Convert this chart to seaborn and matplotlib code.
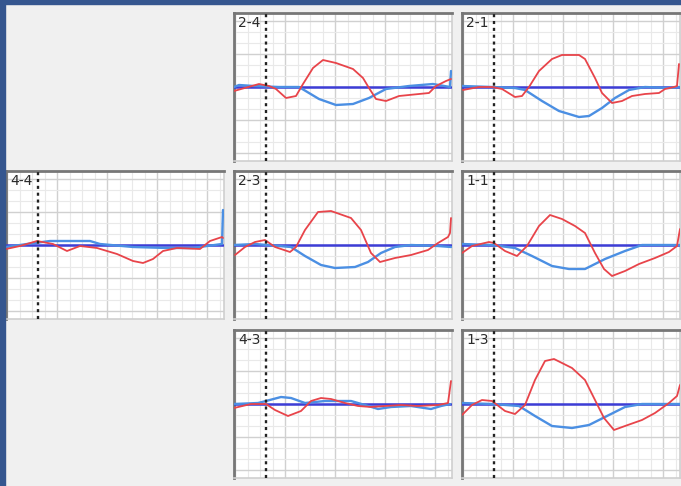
import numpy as np
import pandas as pd
import matplotlib.pyplot as plt
import seaborn as sns
from matplotlib.patches import Rectangle

sns.set_style('white')
plt.rcParams['font.family'] = ['DejaVu Sans']

# panel labels and grid slots (row, col)
labels = ['2-4', '2-1', '4-4', '2-3', '1-1', '4-3', '1-3']
slots = [(0, 1), (0, 2), (1, 0), (1, 1), (1, 2), (2, 1), (2, 2)]

# red traces (x in px-units from panel left, y up from baseline)
red_24_x = [0, 25, 35, 42, 52, 62, 69, 79, 89, 102, 119, 129, 135, 142, 152, 165, 185, 195, 202, 212, 217]
red_24_y = [-4, 3, 1, -2, -11, -9, 3, 19, 27, 24, 18, 9, -1, -12, -14, -9, -7, -6, 1, 6, 8]
red_21_x = [1, 17, 30, 40, 53, 60, 67, 77, 90, 100, 117, 123, 133, 140, 150, 160, 170, 183, 197, 203, 212, 215, 217]
red_21_y = [-3, 0, 0, -2, -10, -9, 0, 16, 28, 32, 32, 28, 9, -6, -16, -14, -9, -7, -6, -2, 0, 1, 23]
red_44_x = [0, 14, 31, 47, 61, 74, 91, 111, 127, 137, 147, 157, 171, 194, 204, 216, 217]
red_44_y = [-4, -1, 4, 1, -6, -1, -3, -9, -16, -18, -14, -6, -3, -4, 4, 8, 7]
red_23_x = [1, 11, 21, 31, 41, 56, 62, 71, 84, 97, 117, 127, 137, 146, 161, 177, 194, 204, 214, 216, 217]
red_23_y = [-10, -2, 3, 5, -2, -7, -2, 15, 33, 34, 27, 15, -8, -17, -13, -10, -5, 2, 8, 12, 27]
red_11_x = [0, 10, 27, 32, 43, 55, 65, 77, 88, 100, 113, 123, 133, 142, 150, 163, 177, 193, 207, 215, 218]
red_11_y = [-8, -1, 3, 2, -6, -11, -1, 19, 30, 26, 19, 12, -8, -24, -31, -26, -19, -13, -7, -1, 16]
red_43_x = [0, 17, 32, 41, 54, 67, 77, 87, 97, 111, 124, 137, 151, 167, 184, 204, 214, 217]
red_43_y = [-4, 0, 0, -6, -12, -7, 3, 6, 5, 1, -2, -3, -2, -1, -2, -1, 1, 23]
red_13_x = [0, 10, 20, 30, 43, 53, 63, 73, 83, 92, 110, 123, 133, 142, 152, 163, 180, 193, 207, 215, 218]
red_13_y = [-11, -1, 4, 3, -7, -10, -1, 24, 43, 45, 36, 24, 4, -14, -26, -22, -16, -9, 1, 8, 19]

# blue traces
blue_24_x = [0, 5, 20, 45, 65, 85, 102, 119, 135, 152, 175, 199, 216, 217]
blue_24_y = [0, 2, 1, 0, 0, -12, -18, -17, -11, -2, 1, 3, 0, 16]
blue_21_x = [0, 30, 53, 63, 80, 97, 117, 127, 140, 153, 167, 183, 207, 217]
blue_21_y = [1, 0, -1, -3, -14, -24, -30, -29, -21, -11, -3, 0, -1, 0]
blue_44_x = [0, 21, 44, 84, 94, 127, 161, 187, 201, 216, 217]
blue_44_y = [-2, 1, 4, 4, 1, -2, -3, -3, -1, 1, 35]
blue_23_x = [0, 21, 57, 71, 87, 101, 121, 134, 147, 161, 177, 204, 217]
blue_23_y = [0, 1, -2, -11, -20, -23, -22, -17, -8, -2, 0, -1, -2]
blue_11_x = [0, 30, 53, 70, 90, 107, 123, 143, 163, 180, 218]
blue_11_y = [1, 0, -3, -11, -21, -24, -24, -14, -6, 0, 0]
blue_43_x = [0, 24, 32, 47, 57, 71, 91, 117, 131, 144, 157, 177, 197, 207, 216]
blue_43_y = [0, 1, 3, 7, 6, 1, 3, 3, -1, -5, -3, -2, -5, -2, 0]
blue_13_x = [0, 30, 57, 73, 90, 110, 127, 147, 163, 180, 218]
blue_13_y = [1, 0, -2, -12, -22, -24, -21, -11, -3, 0, 0]

red_x = [red_24_x, red_21_x, red_44_x, red_23_x, red_11_x, red_43_x, red_13_x]
red_y = [red_24_y, red_21_y, red_44_y, red_23_y, red_11_y, red_43_y, red_13_y]
blue_x = [blue_24_x, blue_21_x, blue_44_x, blue_23_x, blue_11_x, blue_43_x, blue_13_x]
blue_y = [blue_24_y, blue_21_y, blue_44_y, blue_23_y, blue_11_y, blue_43_y, blue_13_y]

marker_x = 32  # dotted reference line

W, H = 681, 486
fig = plt.figure(figsize=(W / 100, H / 100), dpi=100)
fig.patch.set_facecolor('#f0f0f0')
# window frame strips
fig.patches.append(Rectangle((0, 0), 5 / W, 1, transform=fig.transFigure, color='#35568f', zorder=0))
fig.patches.append(Rectangle((0, 1 - 4 / H), 1, 4 / H, transform=fig.transFigure, color='#35568f', zorder=0))

col_left = [6, 234, 462]
row_top = [13, 171, 330]
pw, ph = 218, 148

for i, lab in enumerate(labels):
    r, c = slots[i]
    ax = fig.add_axes([col_left[c] / W, 1 - (row_top[r] + ph) / H, pw / W, ph / H])
    ax.set_facecolor('white')
    ax.set_xlim(0, 218)
    ax.set_ylim(-74, 74)
    ax.set_xticks(np.arange(1, 218, 50))
    ax.set_xticks(np.arange(1, 218, 12.5), minor=True)
    ax.set_yticks(np.arange(-66, 67, 33))
    ax.set_yticks(np.arange(-66, 67, 11), minor=True)
    ax.grid(which='minor', color='#e9e9e9', lw=0.8)
    ax.grid(which='major', color='#d0d0d0', lw=1.0)
    ax.tick_params(which='both', length=0, labelbottom=False, labelleft=False)
    for s in ['top', 'left']:
        ax.spines[s].set_color('#777777')
        ax.spines[s].set_linewidth(2.0)
    for s in ['bottom', 'right']:
        ax.spines[s].set_color('#cfcfcf')
        ax.spines[s].set_linewidth(1.2)

    ax.axvline(marker_x, color='#222222', ls=(0, (1.3, 1.6)), lw=1.7, zorder=5)
    ax.plot([0, 217], [0, 0], color='#3d3dd6', lw=1.8, zorder=3)
    df_b = pd.DataFrame({'x': blue_x[i], 'y': blue_y[i]})
    sns.lineplot(data=df_b, x='x', y='y', ax=ax, color='#4b8fe3', lw=1.7, estimator=None, zorder=4)
    df_r = pd.DataFrame({'x': red_x[i], 'y': red_y[i]})
    sns.lineplot(data=df_r, x='x', y='y', ax=ax, color='#e8444a', lw=1.3, estimator=None, zorder=4)
    ax.set_xlabel('')
    ax.set_ylabel('')
    ax.text(4, 71, lab, fontsize=10, fontweight='medium', color='#2a2a2a', ha='left', va='top', zorder=6)

fig.savefig('out.png', dpi=100, facecolor=fig.get_facecolor())
